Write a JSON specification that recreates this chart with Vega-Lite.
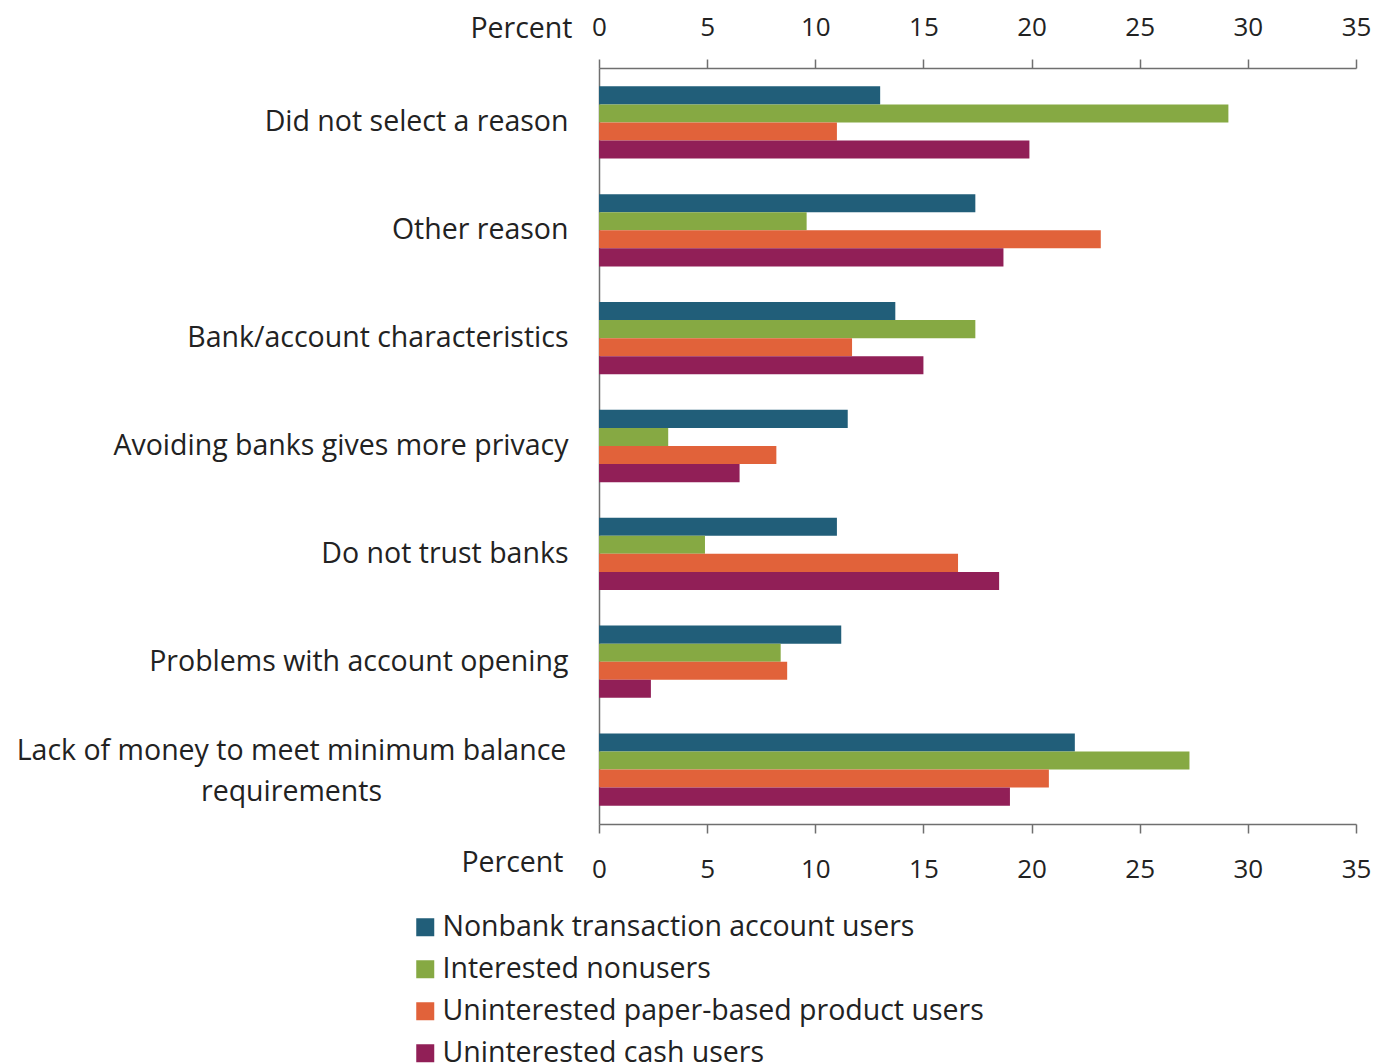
{
  "$schema": "https://vega.github.io/schema/vega-lite/v6.json",
  "width": 757,
  "height": 756,
  "autosize": {"type": "none"},
  "padding": {"left": 599, "top": 68, "right": 19, "bottom": 239},
  "background": "white",
  "config": {
    "view": {"stroke": null},
    "font": "Open Sans",
    "axis": {"grid": false, "domainColor": "#6f6f6f", "tickColor": "#6f6f6f", "domainWidth": 1.5, "tickWidth": 1.5, "labelColor": "#222222", "titleColor": "#222222", "labelFont": "Open Sans", "titleFont": "Open Sans", "labelFontSize": 26, "titleFontSize": 28.5, "titleFontWeight": "normal"},
    "legend": {"labelFont": "Open Sans", "labelFontSize": 28.5, "labelColor": "#222222", "labelLimit": 800}
  },
  "data": {
    "values": [
      {"reason": "Did not select a reason", "group": "Nonbank transaction account users", "value": 13.0},
      {"reason": "Did not select a reason", "group": "Interested nonusers", "value": 29.1},
      {"reason": "Did not select a reason", "group": "Uninterested paper-based product users", "value": 11.0},
      {"reason": "Did not select a reason", "group": "Uninterested cash users", "value": 19.9},
      {"reason": "Other reason", "group": "Nonbank transaction account users", "value": 17.4},
      {"reason": "Other reason", "group": "Interested nonusers", "value": 9.6},
      {"reason": "Other reason", "group": "Uninterested paper-based product users", "value": 23.2},
      {"reason": "Other reason", "group": "Uninterested cash users", "value": 18.7},
      {"reason": "Bank/account characteristics", "group": "Nonbank transaction account users", "value": 13.7},
      {"reason": "Bank/account characteristics", "group": "Interested nonusers", "value": 17.4},
      {"reason": "Bank/account characteristics", "group": "Uninterested paper-based product users", "value": 11.7},
      {"reason": "Bank/account characteristics", "group": "Uninterested cash users", "value": 15.0},
      {"reason": "Avoiding banks gives more privacy", "group": "Nonbank transaction account users", "value": 11.5},
      {"reason": "Avoiding banks gives more privacy", "group": "Interested nonusers", "value": 3.2},
      {"reason": "Avoiding banks gives more privacy", "group": "Uninterested paper-based product users", "value": 8.2},
      {"reason": "Avoiding banks gives more privacy", "group": "Uninterested cash users", "value": 6.5},
      {"reason": "Do not trust banks", "group": "Nonbank transaction account users", "value": 11.0},
      {"reason": "Do not trust banks", "group": "Interested nonusers", "value": 4.9},
      {"reason": "Do not trust banks", "group": "Uninterested paper-based product users", "value": 16.6},
      {"reason": "Do not trust banks", "group": "Uninterested cash users", "value": 18.5},
      {"reason": "Problems with account opening", "group": "Nonbank transaction account users", "value": 11.2},
      {"reason": "Problems with account opening", "group": "Interested nonusers", "value": 8.4},
      {"reason": "Problems with account opening", "group": "Uninterested paper-based product users", "value": 8.7},
      {"reason": "Problems with account opening", "group": "Uninterested cash users", "value": 2.4},
      {"reason": "Lack of money to meet minimum balance requirements", "group": "Nonbank transaction account users", "value": 22.0},
      {"reason": "Lack of money to meet minimum balance requirements", "group": "Interested nonusers", "value": 27.3},
      {"reason": "Lack of money to meet minimum balance requirements", "group": "Uninterested paper-based product users", "value": 20.8},
      {"reason": "Lack of money to meet minimum balance requirements", "group": "Uninterested cash users", "value": 19.0}
    ]
  },
  "layer": [
    {
      "mark": {"type": "bar"},
      "encoding": {
        "y": {
          "field": "reason", "type": "nominal", "sort": null,
          "scale": {"paddingInner": 0.33, "paddingOuter": 0.17},
          "axis": {
            "title": null, "ticks": false, "labelLimit": 700, "labelFontSize": 28.5,
            "labelExpr": "datum.value == 'Lack of money to meet minimum balance requirements' ? ['Lack of money to meet minimum balance', 'requirements'] : datum.value",
            "labelLineHeight": 41,
            "labelAlign": {"condition": {"test": "datum.value == 'Lack of money to meet minimum balance requirements'", "value": "center"}, "value": "right"},
            "labelPadding": {"condition": {"test": "datum.value == 'Lack of money to meet minimum balance requirements'", "value": 308}, "value": 31},
            "labelOffset": {"condition": {"test": "datum.value == 'Lack of money to meet minimum balance requirements'", "value": -19}, "value": 0}
          }
        },
        "yOffset": {"field": "group", "type": "nominal", "sort": null},
        "x": {
          "field": "value", "type": "quantitative",
          "scale": {"domain": [0, 35], "nice": false},
          "axis": {"orient": "bottom", "values": [0, 5, 10, 15, 20, 25, 30, 35], "tickSize": 9, "labelPadding": 36, "labelBaseline": "middle", "labelFlush": false,
            "title": "Percent", "titleX": -36, "titleY": 38, "titleAlign": "right", "titleBaseline": "middle", "titleAnchor": null}
        },
        "color": {
          "field": "group", "type": "nominal", "sort": null,
          "scale": {"domain": ["Nonbank transaction account users", "Interested nonusers", "Uninterested paper-based product users", "Uninterested cash users"], "range": ["#215e79", "#86a943", "#e1623a", "#911f57"]},
          "legend": {"title": null, "orient": "none", "legendX": -188, "legendY": 845, "symbolType": "square", "symbolSize": 324, "symbolStrokeWidth": 0, "labelOffset": 3, "rowPadding": 13, "direction": "vertical", "labelLimit": 800}
        }
      }
    },
    {
      "mark": {"type": "bar", "opacity": 0},
      "encoding": {
        "y": {"field": "reason", "type": "nominal", "sort": null},
        "x": {
          "field": "value", "type": "quantitative",
          "axis": {"orient": "top", "values": [0, 5, 10, 15, 20, 25, 30, 35], "tickSize": 9, "labelPadding": 32, "labelBaseline": "middle", "labelFlush": false,
            "title": "Percent", "titleX": -27, "titleY": -40, "titleAlign": "right", "titleBaseline": "middle", "titleAnchor": null}
        }
      }
    }
  ],
  "resolve": {"axis": {"x": "independent"}}
}
